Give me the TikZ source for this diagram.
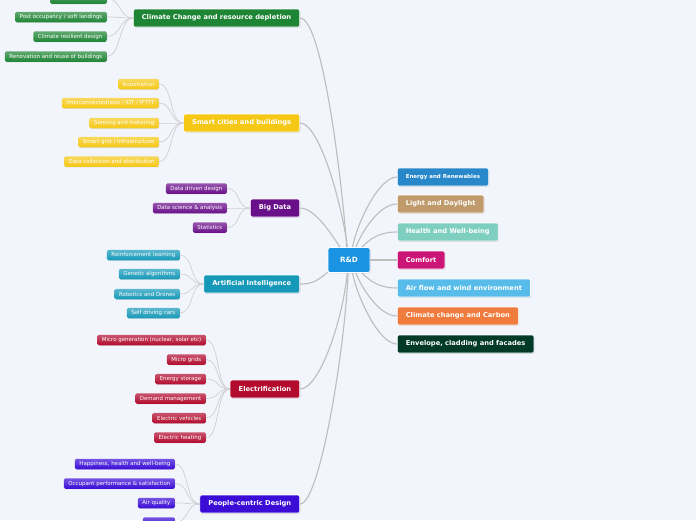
\documentclass[tikz,border=0pt]{standalone}
\usepackage{fontspec}
\setmainfont{DejaVu Sans}
\usetikzlibrary{shadows}
\definecolor{bgcol}{HTML}{F3F5FD}
\definecolor{linegray}{HTML}{BDBDBD}
\definecolor{leafgray}{HTML}{CFCFCF}
\definecolor{rootblue}{HTML}{1A94E2}
\definecolor{ccgreen}{HTML}{1E8535}
\definecolor{smartyellow}{HTML}{F5C816}
\definecolor{bdpurple}{HTML}{6A0F8A}
\definecolor{aiteal}{HTML}{1699B8}
\definecolor{elecred}{HTML}{B20B2D}
\definecolor{pplindigo}{HTML}{3A0CD6}
\definecolor{energyblue}{HTML}{2787C9}
\definecolor{lighttan}{HTML}{BF9A6A}
\definecolor{healthmint}{HTML}{7ECFC0}
\definecolor{comfortpink}{HTML}{CB1677}
\definecolor{airsky}{HTML}{57BCEA}
\definecolor{carbonorange}{HTML}{EF7B3D}
\definecolor{envgreen}{HTML}{013A27}
\tikzstyle{root} = [rectangle, draw=white, line width=0.8pt, rounded corners=2pt,
    fill=rootblue, text=white, minimum width=42pt, minimum height=25pt,
    font=\bfseries\fontsize{7.2}{8}\selectfont,
    drop shadow={opacity=0.25, shadow xshift=0.8pt, shadow yshift=-0.8pt}]
\tikzstyle{topic} = [rectangle, draw=white, line width=0.6pt, rounded corners=1.5pt,
    text=white, minimum height=18pt, inner xsep=8.5pt, inner ysep=0pt,
    font=\bfseries\fontsize{6.7}{7.5}\selectfont,
    drop shadow={opacity=0.25, shadow xshift=0.8pt, shadow yshift=-0.8pt}]
\tikzset{leaf/.style={rectangle, rounded corners=1.5pt, text=white,
    top color=#1!70!white, bottom color=#1, minimum height=10.5pt,
    inner xsep=4.5pt, inner ysep=0pt, font=\fontsize{5.45}{6}\selectfont,
    drop shadow={opacity=0.2, shadow xshift=0.5pt, shadow yshift=-0.5pt}}}
\tikzstyle{mainlink} = [draw=linegray, line width=1.1pt]
\tikzstyle{leaflink} = [draw=leafgray, line width=0.7pt]

\begin{document}
\begin{tikzpicture}[x=1pt, y=-1pt]
\useasboundingbox (0,0) rectangle (696,520);
\clip (0,0) rectangle (696,520);
\fill[bgcol] (0,0) rectangle (696,520);

% centre
\node[root] (rd) at (349,260) {R\&D};

% left topics
\node[topic, fill=ccgreen, anchor=east] (cc) at (300,18) {Climate Change and resource depletion};
\node[topic, fill=smartyellow, anchor=east] (smart) at (300,123) {Smart cities and buildings};
\node[topic, fill=bdpurple, anchor=east] (bigdata) at (300,208) {Big Data};
\node[topic, fill=aiteal, anchor=east] (ai) at (300,284) {Artificial Intelligence};
\node[topic, fill=elecred, anchor=east] (elec) at (300,389) {Electrification};
\node[topic, fill=pplindigo, anchor=east] (people) at (300,504) {People-centric Design};

% right topics
\node[topic, fill=energyblue, anchor=west, font=\bfseries\fontsize{5.5}{6}\selectfont] (energy) at (397,177) {Energy and Renewables};
\node[topic, fill=lighttan, anchor=west] (light) at (397,204) {Light and Daylight};
\node[topic, fill=healthmint, anchor=west] (health) at (397,232) {Health and Well-being};
\node[topic, fill=comfortpink, anchor=west] (comfort) at (397,260) {Comfort};
\node[topic, fill=airsky, anchor=west] (airflow) at (397,288) {Air flow and wind environment};
\node[topic, fill=carbonorange, anchor=west] (carbon) at (397,316) {Climate change and Carbon};
\node[topic, fill=envgreen, anchor=west] (envelope) at (397,344) {Envelope, cladding and facades};

% leaves: climate change
\node[leaf=ccgreen, anchor=east] (cc1) at (107,-1.5) {Emissions control};
\node[leaf=ccgreen, anchor=east] (cc2) at (107,17) {Post occupancy / soft landings};
\node[leaf=ccgreen, anchor=east] (cc3) at (107,36.5) {Climate resilient design};
\node[leaf=ccgreen, anchor=east] (cc4) at (107,56.5) {Renovation and reuse of buildings};

% leaves: smart cities
\node[leaf=smartyellow, anchor=east] (sc1) at (159,84) {Automation};
\node[leaf=smartyellow, anchor=east] (sc2) at (159,103) {Interconnectedness / IOT / IFTTT};
\node[leaf=smartyellow, anchor=east] (sc3) at (159,123) {Sensing and metering};
\node[leaf=smartyellow, anchor=east] (sc4) at (159,142) {Smart grid / infrastructure};
\node[leaf=smartyellow, anchor=east] (sc5) at (159,161.5) {Data collection and distribution};

% leaves: big data
\node[leaf=bdpurple, anchor=east] (bd1) at (227,188.5) {Data driven design};
\node[leaf=bdpurple, anchor=east] (bd2) at (227,208) {Data science \& analysis};
\node[leaf=bdpurple, anchor=east] (bd3) at (227,227.5) {Statistics};

% leaves: artificial intelligence
\node[leaf=aiteal, anchor=east] (ai1) at (180,255) {Reinforcement learning};
\node[leaf=aiteal, anchor=east] (ai2) at (180,274) {Genetic algorithms};
\node[leaf=aiteal, anchor=east] (ai3) at (180,294) {Robotics and Drones};
\node[leaf=aiteal, anchor=east] (ai4) at (180,313) {Self driving cars};

% leaves: electrification
\node[leaf=elecred, anchor=east] (el1) at (206,340) {Micro generation (nuclear, solar etc)};
\node[leaf=elecred, anchor=east] (el2) at (206,359.5) {Micro grids};
\node[leaf=elecred, anchor=east] (el3) at (206,379) {Energy storage};
\node[leaf=elecred, anchor=east] (el4) at (206,398.5) {Demand management};
\node[leaf=elecred, anchor=east] (el5) at (206,418) {Electric vehicles};
\node[leaf=elecred, anchor=east] (el6) at (206,437.5) {Electric heating};

% leaves: people-centric
\node[leaf=pplindigo, anchor=east] (pc1) at (175,464) {Happiness, health and well-being};
\node[leaf=pplindigo, anchor=east] (pc2) at (175,483.5) {Occupant performance \& satisfaction};
\node[leaf=pplindigo, anchor=east] (pc3) at (175,503) {Air quality};
\node[leaf=pplindigo, anchor=east, minimum width=32pt] (pc4) at (175,522.5) {};

% main links
\draw[mainlink] (cc.east) .. controls +(22,0) and +(-5,-70) .. (rd.100);
\draw[mainlink] (smart.east) .. controls +(20,0) and +(-5,-40) .. (rd.97);
\draw[mainlink] (bigdata.east) .. controls +(15,0) and +(-8,-12) .. (rd.125);
\draw[mainlink] (ai.east) .. controls +(15,0) and +(-8,6) .. (rd.210);
\draw[mainlink] (elec.east) .. controls +(20,0) and +(-4,45) .. (rd.262);
\draw[mainlink] (people.east) .. controls +(20,0) and +(-3,75) .. (rd.266);
\draw[mainlink] (energy.west) .. controls +(-18,0) and +(5,-25) .. (rd.75);
\draw[mainlink] (light.west) .. controls +(-18,0) and +(6,-15) .. (rd.62);
\draw[mainlink] (health.west) .. controls +(-18,0) and +(8,-8) .. (rd.45);
\draw[mainlink] (rd.east) -- (comfort.west);
\draw[mainlink] (airflow.west) .. controls +(-18,0) and +(8,8) .. (rd.-45);
\draw[mainlink] (carbon.west) .. controls +(-18,0) and +(6,15) .. (rd.-62);
\draw[mainlink] (envelope.west) .. controls +(-18,0) and +(5,25) .. (rd.-75);

% leaf links
\draw[leaflink] (cc.west) .. controls +(-14,0) and +(14,0) .. (cc1.east);
\draw[leaflink] (cc.west) .. controls +(-14,0) and +(14,0) .. (cc2.east);
\draw[leaflink] (cc.west) .. controls +(-14,0) and +(14,0) .. (cc3.east);
\draw[leaflink] (cc.west) .. controls +(-14,0) and +(14,0) .. (cc4.east);
\draw[leaflink] (smart.west) .. controls +(-14,0) and +(14,0) .. (sc1.east);
\draw[leaflink] (smart.west) .. controls +(-14,0) and +(14,0) .. (sc2.east);
\draw[leaflink] (smart.west) .. controls +(-14,0) and +(14,0) .. (sc3.east);
\draw[leaflink] (smart.west) .. controls +(-14,0) and +(14,0) .. (sc4.east);
\draw[leaflink] (smart.west) .. controls +(-14,0) and +(14,0) .. (sc5.east);
\draw[leaflink] (bigdata.west) .. controls +(-14,0) and +(14,0) .. (bd1.east);
\draw[leaflink] (bigdata.west) .. controls +(-14,0) and +(14,0) .. (bd2.east);
\draw[leaflink] (bigdata.west) .. controls +(-14,0) and +(14,0) .. (bd3.east);
\draw[leaflink] (ai.west) .. controls +(-14,0) and +(14,0) .. (ai1.east);
\draw[leaflink] (ai.west) .. controls +(-14,0) and +(14,0) .. (ai2.east);
\draw[leaflink] (ai.west) .. controls +(-14,0) and +(14,0) .. (ai3.east);
\draw[leaflink] (ai.west) .. controls +(-14,0) and +(14,0) .. (ai4.east);
\draw[leaflink] (elec.west) .. controls +(-14,0) and +(14,0) .. (el1.east);
\draw[leaflink] (elec.west) .. controls +(-14,0) and +(14,0) .. (el2.east);
\draw[leaflink] (elec.west) .. controls +(-14,0) and +(14,0) .. (el3.east);
\draw[leaflink] (elec.west) .. controls +(-14,0) and +(14,0) .. (el4.east);
\draw[leaflink] (elec.west) .. controls +(-14,0) and +(14,0) .. (el5.east);
\draw[leaflink] (elec.west) .. controls +(-14,0) and +(14,0) .. (el6.east);
\draw[leaflink] (people.west) .. controls +(-14,0) and +(14,0) .. (pc1.east);
\draw[leaflink] (people.west) .. controls +(-14,0) and +(14,0) .. (pc2.east);
\draw[leaflink] (people.west) .. controls +(-14,0) and +(14,0) .. (pc3.east);
\draw[leaflink] (people.west) .. controls +(-14,0) and +(14,0) .. (pc4.east);
\end{tikzpicture}
\end{document}
